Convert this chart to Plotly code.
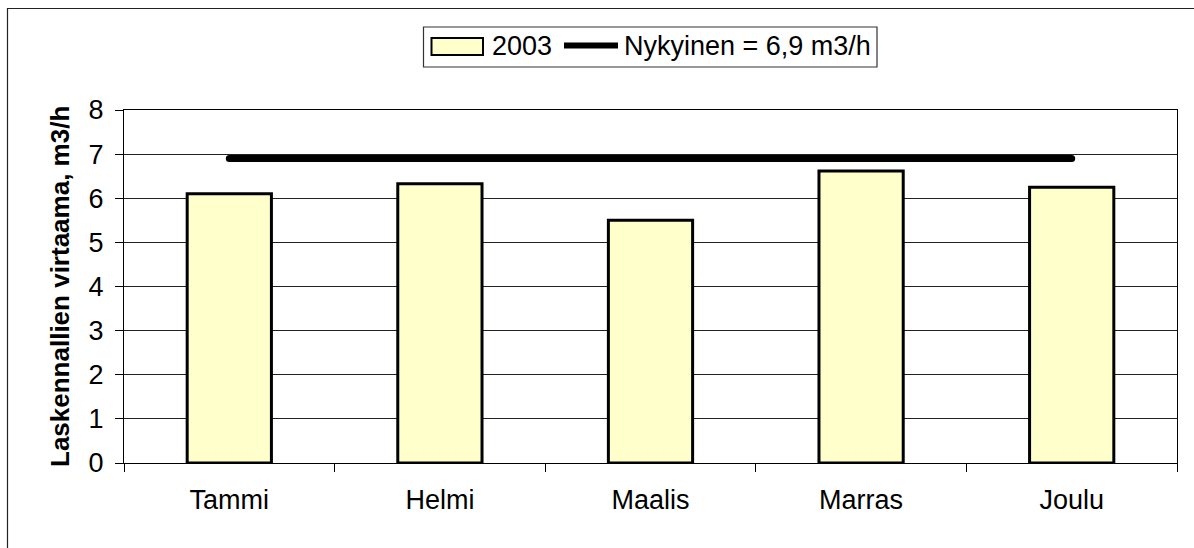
import plotly.graph_objects as go

# ---- data ----
months = ["Tammi", "Helmi", "Maalis", "Marras", "Joulu"]
flow_2003 = [6.1, 6.33, 5.5, 6.62, 6.25]
current_flow = 6.9
current_line = [current_flow] * len(months)
bar_name = "2003"
line_name = "Nykyinen = 6,9 m3/h"
y_title = "Laskennallien virtaama, m3/h"
y_ticks = [0, 1, 2, 3, 4, 5, 6, 7, 8]

# ---- layout geometry (pixels) ----
W, H = 1194, 548
ML, MR, MT, MB = 124, 17, 110, 85
PW, PH = W - ML - MR, H - MT - MB


def px(x):
    return (x - ML) / PW


def py(y):
    return (H - MB - y) / PH


FONT = "Liberation Sans, Arial, sans-serif"
FS = 27

fig = go.Figure()
fig.add_trace(go.Bar(
    x=months, y=flow_2003, name=bar_name, width=0.4,
    marker=dict(color="#FFFFCC", line=dict(color="black", width=3)),
    showlegend=False,
))
fig.add_trace(go.Scatter(
    x=months, y=current_line, name=line_name, mode="lines+markers",
    line=dict(color="black", width=7),
    marker=dict(color="black", size=7),
    showlegend=False,
))

shapes = [
    # outer chart frame (clipped at the right/bottom)
    dict(type="rect", xref="paper", yref="paper",
         x0=px(7.5), x1=px(1210), y0=py(570), y1=py(8.5),
         line=dict(color="#222", width=1.2), layer="above"),
    # legend box
    dict(type="rect", xref="paper", yref="paper",
         x0=px(423.5), x1=px(877), y0=py(67), y1=py(27),
         line=dict(color="#333", width=1.2), fillcolor="white"),
    # legend bar swatch
    dict(type="rect", xref="paper", yref="paper",
         x0=px(431.5), x1=px(483), y0=py(55), y1=py(38),
         line=dict(color="black", width=2), fillcolor="#FFFFCC"),
    # legend line swatch
    dict(type="line", xref="paper", yref="paper",
         x0=px(564), x1=px(618), y0=py(45.5), y1=py(45.5),
         line=dict(color="black", width=6)),
]

annotations = [
    dict(text=bar_name, xref="paper", yref="paper", x=px(490), y=py(46.5),
         xanchor="left", yanchor="middle", showarrow=False,
         font=dict(family=FONT, size=FS, color="black")),
    dict(text=line_name, xref="paper", yref="paper", x=px(622), y=py(46.5),
         xanchor="left", yanchor="middle", showarrow=False,
         font=dict(family=FONT, size=FS, color="black")),
    dict(text="<b>" + y_title + "</b>", xref="paper", yref="paper",
         x=px(59.5), y=0.5, xanchor="center", yanchor="middle",
         textangle=-90, showarrow=False,
         font=dict(family=FONT, size=26, color="black")),
]

fig.update_layout(
    width=W, height=H,
    margin=dict(l=ML, r=MR, t=MT, b=MB, pad=0),
    paper_bgcolor="white", plot_bgcolor="white",
    font=dict(family=FONT, size=FS, color="black"),
    shapes=shapes, annotations=annotations,
    showlegend=False,
)
fig.update_xaxes(
    range=[-0.5, 4.5], showline=True, linecolor="black", linewidth=1.2,
    mirror=True, ticks="outside", tickson="boundaries", ticklen=8,
    tickcolor="black", tickwidth=1.2, showgrid=False,
    ticklabelstandoff=12,
    tickfont=dict(family=FONT, size=FS, color="black"),
)
fig.update_yaxes(
    range=[0, 8], tickvals=y_ticks, showline=True, linecolor="black",
    linewidth=1.2, mirror=True, ticks="outside", ticklen=8,
    tickcolor="black", tickwidth=1.2, showgrid=True, gridcolor="#222",
    gridwidth=1.2, zeroline=False, ticklabelstandoff=6,
    tickfont=dict(family=FONT, size=FS, color="black"),
)

fig.write_html(
    "out.html",
    config={"displayModeBar": False},
    post_script="document.body.style.margin='0';document.body.style.overflow='hidden';",
)
